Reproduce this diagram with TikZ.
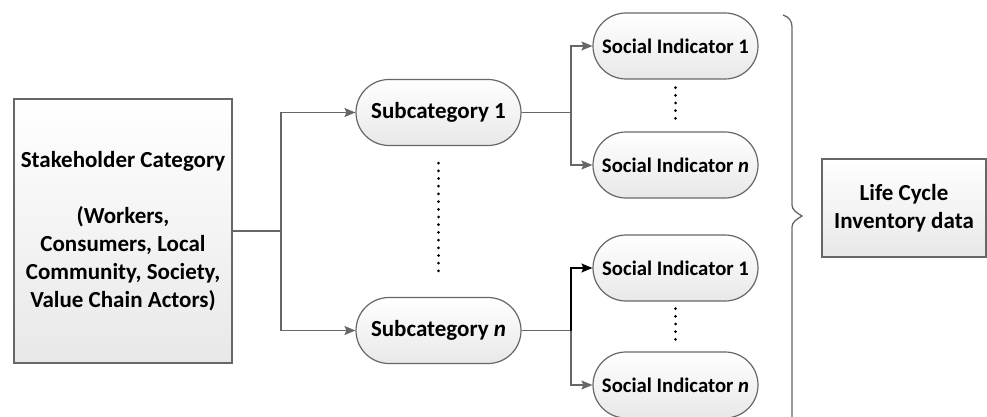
\documentclass[tikz,border=0pt]{standalone}
\usepackage{fontspec}
\setmainfont{Carlito}
\usetikzlibrary{arrows.meta}
\definecolor{linec}{HTML}{676767}
\begin{document}
\begin{tikzpicture}[x=1pt,y=-1pt,
  box/.style={draw=linec, line width=1.2pt, top color=white, bottom color=black!9,
    font=\bfseries\fontsize{23}{27.8}\selectfont, align=center, inner sep=0pt},
  pill/.style={box, rounded corners=33pt, minimum width=165pt, minimum height=66pt},
  ind/.style={pill, font=\bfseries\fontsize{20.7}{25}\selectfont},
  conn/.style={draw=linec, line width=1.3pt},
  arr/.style={conn, -{Stealth[length=11pt,width=9pt,inset=2pt]}},
  dots/.style={draw=black, line width=3pt, dash pattern=on 0pt off 7.7pt, line cap=round}
]
\useasboundingbox (0,0) rectangle (987,417);
\fill[white] (0,0) rectangle (987,417);

% nodes
\node[box, minimum width=218pt, minimum height=264pt] (stake) at (123,231)
  {Stakeholder Category\\[28.5pt](Workers,\\Consumers, Local\\Community, Society,\\Value Chain Actors)};
\node[pill] (sub1) at (438.5,112.5) {Subcategory 1};
\node[pill] (subn) at (438.5,330.5) {Subcategory \textit{n}};
\node[ind] (i11) at (675.5,46) {Social Indicator 1};
\node[ind] (i1n) at (675.5,165) {Social Indicator \textit{n}};
\node[ind] (in1) at (675.5,268) {Social Indicator 1};
\node[ind] (inn) at (675.5,385) {Social Indicator \textit{n}};
\node[box, minimum width=164pt, minimum height=98pt] (lci) at (904,208)
  {Life Cycle\\Inventory data};

% junctions
\coordinate (j1) at (281,231);
\coordinate (j2) at (571,112.5);
\coordinate (j3) at (571,330.5);

% connectors
\draw[conn] (stake.east) -- (j1);
\draw[arr] (j1) |- (sub1.west);
\draw[arr] (j1) |- (subn.west);
\draw[conn] (sub1.east) -- (j2);
\draw[arr] (j2) |- (i11.west);
\draw[arr] (j2) |- (i1n.west);
\draw[conn] (subn.east) -- (j3);
\draw[arr, draw=black] (j3) |- (in1.west);
\draw[arr] (j3) |- (inn.west);

% dotted ellipses
\draw[dots] ([yshift=-17pt]sub1.south) -- ([yshift=19pt]subn.north);
\draw[dots] ([yshift=-8pt]i11.south) -- ([yshift=11pt]i1n.north);
\draw[dots] ([yshift=-7pt]in1.south) -- ([yshift=9pt]inn.north);

% brace
\draw[conn] (783,15) .. controls (789,17) and (792,21) .. (792,27)
  -- (792,205) .. controls (792,210) and (797,213) .. (802,216)
  .. controls (797,219) and (792,222) .. (792,227) -- (792,417);
\end{tikzpicture}
\end{document}
